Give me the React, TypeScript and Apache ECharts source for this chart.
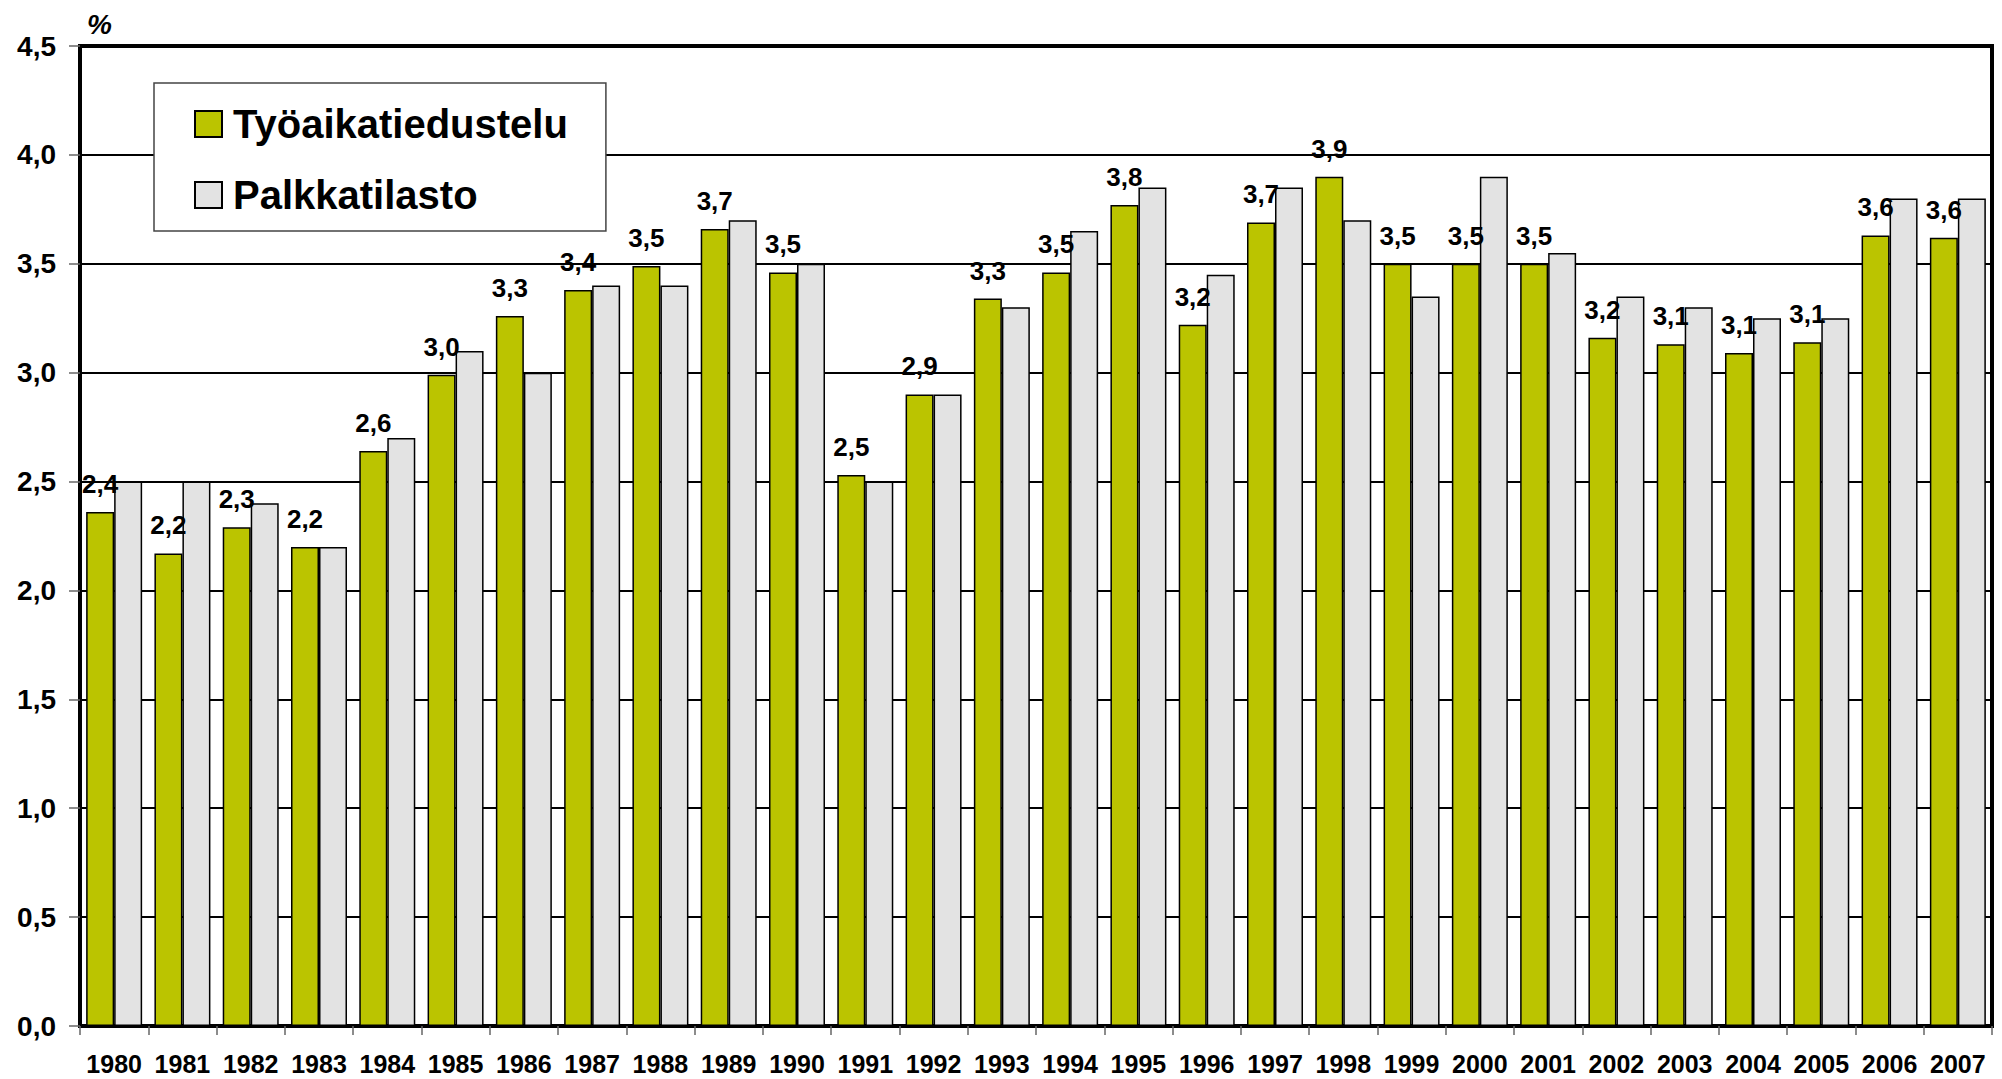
import React, { useEffect, useRef } from "react";
import * as echarts from "echarts";

const years = [
  "1980", "1981", "1982", "1983", "1984", "1985", "1986", "1987", "1988", "1989",
  "1990", "1991", "1992", "1993", "1994", "1995", "1996", "1997", "1998", "1999",
  "2000", "2001", "2002", "2003", "2004", "2005", "2006", "2007",
];

const tyoaikatiedustelu = [
  2.36, 2.17, 2.29, 2.2, 2.64, 2.99, 3.26, 3.38, 3.49, 3.66,
  3.46, 2.53, 2.9, 3.34, 3.46, 3.77, 3.22, 3.69, 3.9, 3.5,
  3.5, 3.5, 3.16, 3.13, 3.09, 3.14, 3.63, 3.62,
];

const palkkatilasto = [
  2.5, 2.5, 2.4, 2.2, 2.7, 3.1, 3.0, 3.4, 3.4, 3.7,
  3.5, 2.5, 2.9, 3.3, 3.65, 3.85, 3.45, 3.85, 3.7, 3.35,
  3.9, 3.55, 3.35, 3.3, 3.25, 3.25, 3.8, 3.8,
];

const seriesNames = ["Työaikatiedustelu", "Palkkatilasto"];
const unitLabel = "%";

const fmt = (v: number) => v.toFixed(1).replace(".", ",");

export default function App() {
  const ref = useRef<HTMLDivElement>(null);

  useEffect(() => {
    if (!ref.current) return;
    const chart = echarts.init(ref.current, null, { renderer: "svg" });
    const font = "'Liberation Sans', Arial, sans-serif";
    chart.setOption({
      animation: false,
      backgroundColor: "#fff",
      grid: {
        left: 80,
        top: 46,
        right: 10,
        bottom: 53,
        show: true,
        borderColor: "#000",
        borderWidth: 4,
        backgroundColor: "transparent",
      },
      legend: {
        orient: "vertical",
        left: 154,
        top: 83,
        backgroundColor: "#fff",
        borderColor: "#444",
        borderWidth: 1.5,
        padding: [21, 38, 16, 40],
        itemWidth: 27,
        itemHeight: 26,
        itemGap: 31,
        icon: "rect",
        textStyle: {
          fontFamily: font,
          fontWeight: "bold",
          fontSize: 40,
          color: "#000",
          padding: [0, 0, 0, 6],
        },
        data: seriesNames,
      },
      graphic: [
        {
          type: "text",
          left: 87,
          top: 10,
          style: {
            text: unitLabel,
            fontFamily: font,
            fontWeight: "bold",
            fontStyle: "italic",
            fontSize: 28,
            fill: "#000",
          },
        },
      ],
      xAxis: {
        type: "category",
        data: years,
        boundaryGap: true,
        axisLine: { show: true, lineStyle: { color: "#000", width: 3 } },
        axisTick: {
          show: true,
          alignWithLabel: false,
          length: 9,
          lineStyle: { color: "#666", width: 1.5 },
        },
        axisLabel: {
          interval: 0,
          margin: 25,
          fontFamily: font,
          fontWeight: "bold",
          fontSize: 25,
          color: "#000",
        },
      },
      yAxis: {
        type: "value",
        min: 0,
        max: 4.5,
        interval: 0.5,
        axisLine: { show: true, lineStyle: { color: "#000", width: 4 } },
        axisTick: { show: true, length: 11, lineStyle: { color: "#666", width: 1.5 } },
        splitLine: { show: true, lineStyle: { color: "#000", width: 2 } },
        axisLabel: {
          margin: 24,
          formatter: (v: number) => fmt(v),
          fontFamily: font,
          fontWeight: "bold",
          fontSize: 28,
          color: "#000",
        },
      },
      series: [
        {
          name: seriesNames[0],
          type: "bar",
          data: tyoaikatiedustelu,
          barGap: "0%",
          barCategoryGap: "18%",
          itemStyle: { color: "#BBC400", borderColor: "#000", borderWidth: 1.5 },
          label: {
            show: true,
            position: "top",
            distance: 15,
            formatter: (p: any) => fmt(p.value),
            fontFamily: font,
            fontWeight: "bold",
            fontSize: 26,
            color: "#000",
          },
          z: 3,
        },
        {
          name: seriesNames[1],
          type: "bar",
          data: palkkatilasto,
          barGap: "0%",
          barCategoryGap: "18%",
          itemStyle: { color: "#E3E3E3", borderColor: "#000", borderWidth: 1.5 },
          z: 2,
        },
      ],
    });
    return () => chart.dispose();
  }, []);

  return (
    <div
      ref={ref}
      style={{ position: "fixed", left: 0, top: 0, width: 2002, height: 1079, background: "#fff" }}
    />
  );
}
